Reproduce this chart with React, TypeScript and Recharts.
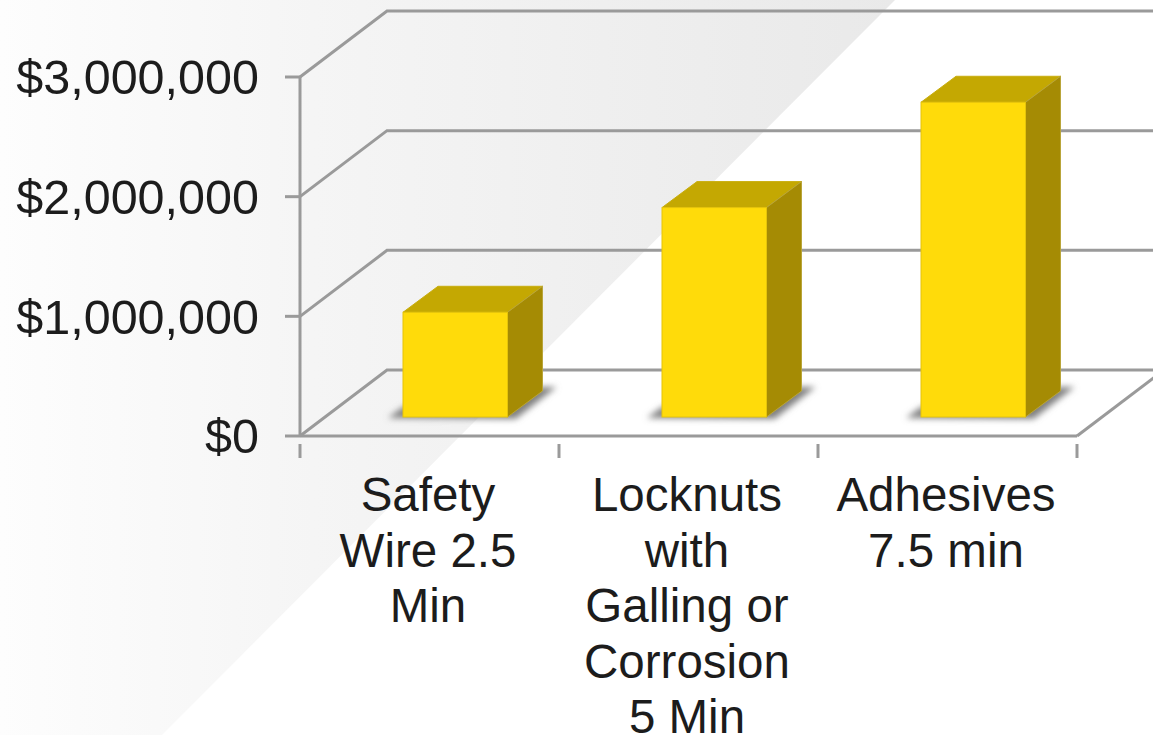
import React from "react";
import { BarChart, Bar, XAxis, YAxis, CartesianGrid } from "recharts";

const categories = ["Safety Wire 2.5 Min", "Locknuts with Galling or Corrosion 5 Min", "Adhesives 7.5 min"];
const categoryLines = [
  ["Safety", "Wire 2.5", "Min"],
  ["Locknuts", "with", "Galling or", "Corrosion", "5 Min"],
  ["Adhesives", "7.5 min"],
];
const savings = [875000, 1750000, 2630000];
const yTicks = [0, 1000000, 2000000, 3000000];
const yLabels = ["$0", "$1,000,000", "$2,000,000", "$3,000,000"];

const rows = categories.map((name, i) => ({ name, value: savings[i] }));

const FONT = "'Liberation Sans', Arial, sans-serif";
const LINE = "#9a9a9a";
const TEXT = "#1c1c1c";
const DX = 87;
const DY = 66;
const DEPTH_X = 35;
const DEPTH_Y = 26;
const BAR_SHIFT_X = 26;
const BAR_SHIFT_Y = -19;

const GridLine = (p: any) => {
  const { x1, y1, x2, y, height } = p;
  const isFloor = y1 >= y + height - 1;
  return (
    <g key={`g-${y1}`} fill="none" stroke={LINE} strokeWidth={3}>
      <polyline points={`${x1},${y1} ${x1 + DX},${y1 - DY} ${x2 + DX},${y1 - DY}`} />
      {isFloor && <line x1={x2} y1={y1} x2={x2 + DX} y2={y1 - DY} />}
    </g>
  );
};

const Bar3D = (p: any) => {
  const x = p.x + BAR_SHIFT_X;
  const y = p.y + BAR_SHIFT_Y;
  const w = p.width;
  const h = p.height;
  const b = y + h;
  const r = x + w;
  return (
    <g>
      <polygon
        points={`${x - 15},${b + 1} ${x},${b - 10} ${r + DEPTH_X},${b - DEPTH_Y - 4} ${r + DEPTH_X + 14},${b - DEPTH_Y - 4} ${r + 8},${b + 2}`}
        fill="#808080"
        filter="url(#barShadow)"
      />
      <polygon
        points={`${x},${y} ${x + DEPTH_X},${y - DEPTH_Y} ${r + DEPTH_X},${y - DEPTH_Y} ${r},${y}`}
        fill="#C4A802"
        stroke="#C9AE10"
        strokeWidth={1}
      />
      <polygon
        points={`${r},${y} ${r + DEPTH_X},${y - DEPTH_Y} ${r + DEPTH_X},${b - DEPTH_Y} ${r},${b}`}
        fill="#A58B04"
        stroke="#B9A53A"
        strokeWidth={1}
      />
      <rect x={x} y={y} width={w} height={h} fill="#FFDB0A" stroke="#E5C40A" strokeWidth={1} />
    </g>
  );
};

const CategoryTick = (p: any) => {
  const { x, y, index, visibleTicksCount, width } = p;
  const band = width / visibleTicksCount;
  const lines = categoryLines[index] || [];
  const last = index === categories.length - 1;
  return (
    <g>
      <line x1={x - band / 2} y1={y} x2={x - band / 2} y2={y + 14} stroke={LINE} strokeWidth={3} />
      {last && <line x1={x + band / 2} y1={y} x2={x + band / 2} y2={y + 14} stroke={LINE} strokeWidth={3} />}
      <text textAnchor="middle" fontFamily={FONT} fontSize={47.5} fill={TEXT}>
        {lines.map((t, i) => (
          <tspan key={t} x={x - 1.5} y={y + 67 + i * 55.6}>
            {t}
          </tspan>
        ))}
      </text>
    </g>
  );
};

export default function App() {
  return (
    <div style={{ position: "absolute", left: 0, top: 0, width: 1153, height: 735, overflow: "hidden", background: "#fff" }}>
      <div
        style={{
          position: "absolute",
          left: 0,
          top: 0,
          width: 895,
          height: 735,
          background: "linear-gradient(90deg, #fdfdfd 0%, #f5f5f5 35%, #e9e9e9 100%)",
          clipPath: "polygon(0 0, 895px 0, 162px 735px, 0 735px)",
        }}
      />
      <div style={{ position: "absolute", left: 0, top: 0 }}>
        <BarChart
          width={1153}
          height={735}
          data={rows}
          margin={{ top: 77, right: 76, bottom: 0, left: 0 }}
          style={{ overflow: "hidden" }}
        >
          <defs>
            <filter id="barShadow" x="-20%" y="-50%" width="140%" height="200%">
              <feGaussianBlur stdDeviation="3" />
            </filter>
          </defs>
          <CartesianGrid vertical={false} horizontal={GridLine} />
          <XAxis
            dataKey="name"
            height={299}
            interval={0}
            tick={CategoryTick}
            tickLine={false}
            axisLine={{ stroke: LINE, strokeWidth: 3 }}
          />
          <YAxis
            width={300}
            domain={[0, 3000000]}
            ticks={yTicks}
            interval={0}
            tickFormatter={(v: number) => yLabels[yTicks.indexOf(v)]}
            tickSize={15}
            tickMargin={26}
            tickLine={{ stroke: LINE, strokeWidth: 3 }}
            axisLine={{ stroke: LINE, strokeWidth: 3 }}
            tick={{ fontFamily: FONT, fontSize: 48.5, fill: TEXT }}
          />
          <Bar dataKey="value" barSize={104.5} isAnimationActive={false} shape={Bar3D} />
        </BarChart>
      </div>
    </div>
  );
}
